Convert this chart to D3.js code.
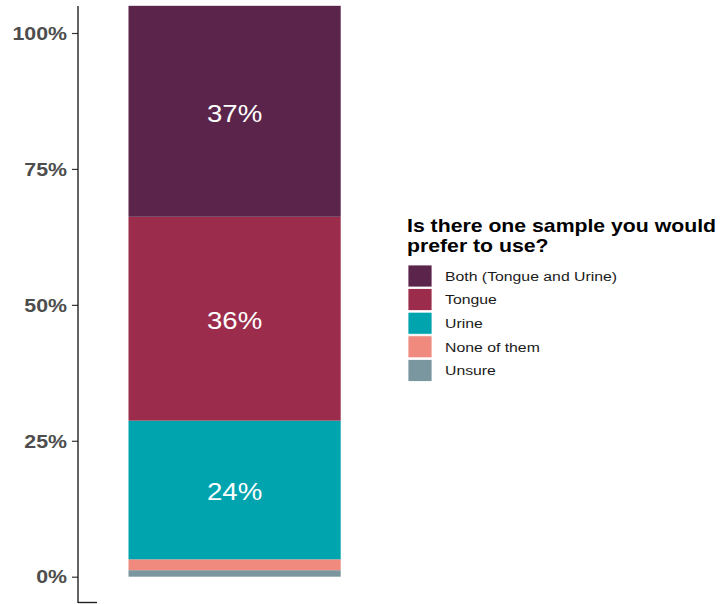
<!DOCTYPE html>
<html>
<head>
<meta charset="utf-8">
<script src="https://cdn.jsdelivr.net/npm/d3@7"></script>
<style>
  body { margin: 0; background: #fff; }
  svg { display: block; font-family: "Liberation Sans", Arial, sans-serif; }
</style>
</head>
<body>
<div id="chart"></div>
<script>
// categories, bottom to top in the stack
const answers = ["Unsure", "None of them", "Urine", "Tongue", "Both (Tongue and Urine)"];
// segment heights as read against the y axis (%)
const shares = [1.2, 2.0, 25.5, 37.5, 38.8];
// printed labels on the segments
const printed = ["", "", "24%", "36%", "37%"];
const colors = ["#7a979f", "#f08a7e", "#00a4ae", "#9c2c4b", "#5b254b"];
const yTicks = [0, 25, 50, 75, 100];
const legendOrder = ["Both (Tongue and Urine)", "Tongue", "Urine", "None of them", "Unsure"];
const legendTitle = ["Is there one sample you would", "prefer to use?"];

const W = 722, H = 604;
const stretch = 1.2; // text in the reference is drawn a bit wide

const svg = d3.select("#chart").append("svg")
  .attr("width", W)
  .attr("height", H);

const y = d3.scaleLinear().domain([0, 100]).range([576.7, 33]);
const x = d3.scaleBand().domain(["q"]).range([128.5, 340.7]).padding(0);
const color = d3.scaleOrdinal().domain(answers).range(colors);

// stack the segments
let acc = 0;
const segs = answers.map((a, i) => {
  const s = { key: a, y0: acc, y1: acc + shares[i], label: printed[i] };
  acc += shares[i];
  return s;
});

svg.selectAll("rect.seg")
  .data(segs)
  .enter()
  .append("rect")
  .attr("class", "seg")
  .attr("x", x("q"))
  .attr("width", x.bandwidth())
  .attr("y", d => y(d.y1))
  .attr("height", d => y(d.y0) - y(d.y1))
  .attr("fill", d => color(d.key));

// labels inside the segments
svg.selectAll("text.seg-label")
  .data(segs.filter(d => d.label))
  .enter()
  .append("text")
  .attr("class", "seg-label")
  .attr("transform", d => `translate(${x("q") + x.bandwidth() / 2},${y((d.y0 + d.y1) / 2)}) scale(${stretch},1)`)
  .attr("text-anchor", "middle")
  .attr("dy", "0.45em")
  .attr("font-size", "23px")
  .attr("fill", "#ffffff")
  .text(d => d.label);

// y axis
const yAxis = svg.append("g")
  .attr("transform", "translate(78,0)")
  .call(d3.axisLeft(y).tickValues(yTicks).tickSize(6).tickFormat(d => d + "%"));
yAxis.select(".domain").remove();
yAxis.selectAll(".tick line").attr("stroke", "#333").attr("stroke-width", 1.2);
yAxis.selectAll(".tick text")
  .attr("x", null)
  .attr("dy", null)
  .attr("transform", `translate(-11,0) scale(${1.22},1)`)
  .attr("dominant-baseline", "central")
  .attr("font-size", "17.5px")
  .attr("font-weight", "bold")
  .attr("font-family", "\"Liberation Sans\", Arial, sans-serif")
  .attr("fill", "#4d4d4d");

svg.append("line")
  .attr("x1", 78).attr("x2", 78)
  .attr("y1", 6).attr("y2", 603)
  .attr("stroke", "#222")
  .attr("stroke-width", 1.4);
svg.append("line")
  .attr("x1", 78).attr("x2", 97)
  .attr("y1", 602.5).attr("y2", 602.5)
  .attr("stroke", "#222")
  .attr("stroke-width", 1.4);

// legend
const legend = svg.append("g").attr("transform", "translate(407,0)");
legend.selectAll("text.title")
  .data(legendTitle)
  .enter()
  .append("text")
  .attr("class", "title")
  .attr("transform", (d, i) => `translate(0,${231.5 + i * 20.5}) scale(1.18,1)`)
  .attr("font-size", "18px")
  .attr("font-weight", "bold")
  .attr("fill", "#000")
  .text(d => d);

const item = legend.selectAll("g.item")
  .data(legendOrder)
  .enter()
  .append("g")
  .attr("class", "item")
  .attr("transform", (d, i) => `translate(0,${265 + i * 23.6})`);

item.append("rect")
  .attr("x", 1)
  .attr("width", 24)
  .attr("height", 22)
  .attr("fill", d => color(d))
  .attr("stroke", "#fff")
  .attr("stroke-width", 0.8);

item.append("text")
  .attr("transform", `translate(38,11) scale(1.17,1)`)
  .attr("dy", "0.35em")
  .attr("font-size", "13.5px")
  .attr("fill", "#1a1a1a")
  .text(d => d);
</script>
</body>
</html>
